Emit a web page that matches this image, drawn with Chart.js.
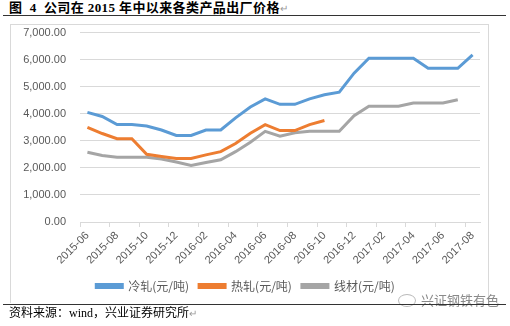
<!DOCTYPE html>
<html>
<head>
<meta charset="utf-8">
<script src="https://cdn.jsdelivr.net/npm/chart.js@4.4.1/dist/chart.umd.min.js"></script>
<style>
html,body{margin:0;padding:0;background:#fff;width:510px;height:326px;overflow:hidden;position:relative;}
#title{position:absolute;left:9px;top:0px;font:bold 13px "Liberation Serif","Noto Sans CJK SC";color:#000;white-space:nowrap;line-height:16px;letter-spacing:0.4px;}
#title .ret{color:#999;font-weight:normal;font-size:10px;}
#hr1{position:absolute;left:3px;top:15px;width:503px;height:1px;background:#333;}
#box{position:absolute;left:10px;top:24px;width:477px;height:278px;border:1px solid #d9d9d9;border-bottom:none;}
#wrap{position:absolute;left:11px;top:12px;width:477px;height:290px;}
#hr2{position:absolute;left:3px;top:304px;width:503px;height:1px;background:#333;}
#src{position:absolute;left:9px;top:306px;font:12px "Liberation Serif","Noto Sans CJK SC";color:#000;white-space:nowrap;line-height:15px;}
#src .ret{color:#999;font-size:10px;}
#wm{position:absolute;left:421px;top:292px;font:13px "Noto Sans CJK SC";color:#8a8a8a;white-space:nowrap;line-height:15px;}
#wmi{position:absolute;left:398px;top:294px;width:16px;height:11px;border:1px solid #bbb;border-radius:50%;}
</style>
</head>
<body>
<div id="title">图&nbsp; 4&nbsp; 公司在 2015 年中以来各类产品出厂价格<span class="ret">↵</span></div>
<div id="hr1"></div>
<div id="box"></div>
<div id="wrap"><canvas id="c"></canvas></div>
<div id="wmi"></div>
<div id="wm">兴证钢铁有色</div>
<div id="hr2"></div>
<div id="src">资料来源：wind，兴业证券研究所<span class="ret">↵</span></div>
<script>
const months = ["2015-06","2015-07","2015-08","2015-09","2015-10","2015-11","2015-12",
  "2016-01","2016-02","2016-03","2016-04","2016-05","2016-06","2016-07","2016-08",
  "2016-09","2016-10","2016-11","2016-12","2017-01","2017-02","2017-03","2017-04",
  "2017-05","2017-06","2017-07","2017-08"];
const coldRolled = [4050,3900,3600,3600,3550,3400,3200,3200,3400,3400,3850,4250,4550,4350,4350,
  4550,4700,4800,5500,6050,6050,6050,6050,5680,5680,5680,6180];
const hotRolled = [3500,3270,3080,3080,2500,2420,2350,2350,2480,2600,2900,3280,3600,3380,3380,
  3600,3750];
const wireRod = [2580,2460,2390,2390,2390,2330,2220,2090,2200,2300,2600,2950,3350,3170,3300,
  3350,3350,3350,3930,4280,4280,4280,4400,4400,4400,4520];
const seriesNames = ["冷轧(元/吨)","热轧(元/吨)","线材(元/吨)"];
const yTicks = [0,1000,2000,3000,4000,5000,6000,7000];

const fmt = v => v.toLocaleString('en-US',{minimumFractionDigits:2,maximumFractionDigits:2});
const txt = '#595959';
const mk = (label, data, color) => ({label, data, borderColor:color, backgroundColor:color,
  borderWidth:3, pointRadius:0, pointHoverRadius:0, tension:0, fill:false, spanGaps:false});

new Chart(document.getElementById('c'), {
  type:'line',
  data:{labels:months, datasets:[
    mk(seriesNames[0], coldRolled, '#5B9BD5'),
    mk(seriesNames[1], hotRolled, '#ED7D31'),
    mk(seriesNames[2], wireRod, '#A5A5A5')
  ]},
  options:{
    responsive:true, maintainAspectRatio:false, animation:false,
    layout:{padding:{left:0,right:8,top:7,bottom:0}},
    plugins:{
      tooltip:{enabled:false},
      legend:{position:'bottom', labels:{boxWidth:26, boxHeight:3, padding:10, color:txt,
        font:{family:'"Noto Sans CJK SC"', size:12}}}
    },
    scales:{
      x:{
        offset:true,
        grid:{offset:true, drawOnChartArea:false, drawTicks:true, tickLength:5,
          color:ctx => (ctx.index % 2 === 0 ? '#d9d9d9' : 'rgba(0,0,0,0)')},
        border:{color:'#d9d9d9'},
        ticks:{autoSkip:false, minRotation:45, maxRotation:45, padding:2, color:txt,
          font:{family:'"Liberation Sans", Arial', size:11},
          callback:(v,i) => (i % 2 === 0 ? months[i] : '')},
        afterFit:s => { s.height = 48; }
      },
      y:{
        min:0, max:7000,
        afterBuildTicks:s => { s.ticks = yTicks.map(v => ({value:v})); },
        grid:{color:'#d9d9d9', drawTicks:false},
        border:{display:false},
        ticks:{padding:14, color:txt, font:{family:'"Liberation Sans", Arial', size:11},
          callback:v => fmt(v)},
        afterFit:s => { s.width = 69; }
      }
    }
  }
});
</script>
</body>
</html>
